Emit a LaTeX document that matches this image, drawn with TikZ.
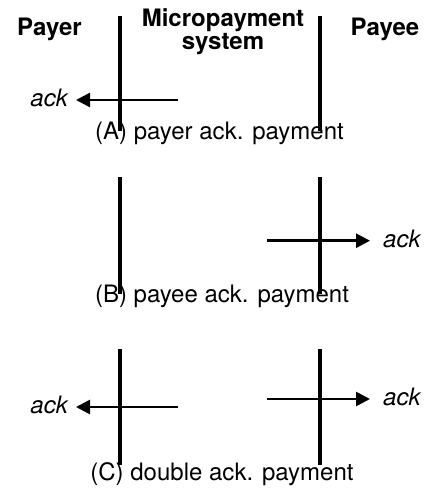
\documentclass[tikz,border=0pt]{standalone}
\usepackage{fontspec}
\setmainfont{TeX Gyre Heros}
\usetikzlibrary{arrows.meta}
\begin{document}
\begin{tikzpicture}[x=1pt,y=-1pt,
  lifeline/.style={line width=3.4pt},
  msg/.style={line width=2.6pt,-{Triangle[length=14pt,width=14pt]}},
  txt/.style={font=\fontsize{24}{23}\selectfont,inner sep=0pt,anchor=base},
  head/.style={txt,font=\fontsize{24}{23}\selectfont\bfseries,align=center},
  acklbl/.style={txt,font=\fontsize{24}{23}\selectfont\itshape}]
\useasboundingbox (0,0) rectangle (434,489);

% headers
\node[head] (payer) at (49.5,35.6) {Payer};
\node[head,anchor=base] (sys) at (223,50) {Micropayment\\system};
\node[head] (payee) at (385,35.6) {Payee};

% (A) payer acknowledges
\coordinate (a1t) at (120,16);  \coordinate (a1b) at (120,131);
\coordinate (a2t) at (320,16);  \coordinate (a2b) at (320,131);
\draw[lifeline] (a1t) -- (a1b);
\draw[lifeline] (a2t) -- (a2b);
\node[acklbl,anchor=base east] (ackA) at (68,107) {ack};
\coordinate (sA) at (178,100);
\coordinate (tA) at (76,100);
\draw[msg] (sA) -- (tA);
\node[txt] (capA) at (219.5,140) {(A) payer ack. payment};

% (B) payee acknowledges
\coordinate (b1t) at (120,177);  \coordinate (b1b) at (120,294);
\coordinate (b2t) at (320,177);  \coordinate (b2b) at (320,294);
\draw[lifeline] (b1t) -- (b1b);
\draw[lifeline] (b2t) -- (b2b);
\node[acklbl,anchor=base west] (ackB) at (383,247) {ack};
\coordinate (sB) at (267,240.7);
\coordinate (tB) at (370,240.7);
\draw[msg] (sB) -- (tB);
\node[txt] (capB) at (222,302) {(B) payee ack. payment};

% (C) double acknowledgement
\coordinate (c1t) at (120,349);  \coordinate (c1b) at (120,465);
\coordinate (c2t) at (320,349);  \coordinate (c2b) at (320,465);
\draw[lifeline] (c1t) -- (c1b);
\draw[lifeline] (c2t) -- (c2b);
\node[acklbl,anchor=base east] (ackC1) at (68,413) {ack};
\coordinate (sC1) at (178,407);
\coordinate (tC1) at (76,407);
\draw[msg] (sC1) -- (tC1);
\node[acklbl,anchor=base west] (ackC2) at (383,405) {ack};
\coordinate (sC2) at (267,399);
\coordinate (tC2) at (370,399);
\draw[msg] (sC2) -- (tC2);
\node[txt] (capC) at (222,480) {(C) double ack. payment};
\end{tikzpicture}
\end{document}
